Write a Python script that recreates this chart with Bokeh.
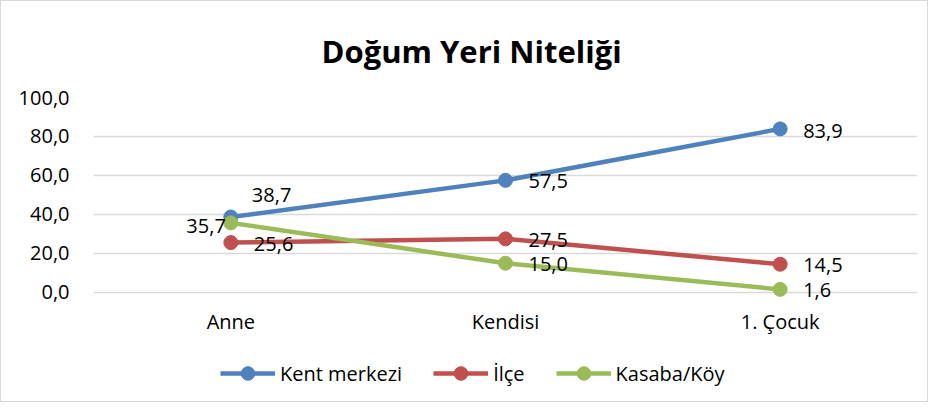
from bokeh.plotting import figure
from bokeh.models import ColumnDataSource, Legend, LegendItem, FixedTicker
from bokeh.embed import file_html
from bokeh.resources import INLINE
from bokeh.core.properties import value

categories = ["Anne", "Kendisi", "1. Çocuk"]
kent_merkezi = [38.7, 57.5, 83.9]
ilce = [25.6, 27.5, 14.5]
kasaba_koy = [35.7, 15.0, 1.6]
series_names = ["Kent merkezi", "İlçe", "Kasaba/Köy"]
y_ticks = [0, 20, 40, 60, 80, 100]
y_tick_labels = ["0,0", "20,0", "40,0", "60,0", "80,0", "100,0"]

colors = ["#4F81BD", "#C0504D", "#9BBB59"]
FONT = "Open Sans"

# frame extends below 0 (1.95 px per unit) so that the legend area is inside the frame
p = figure(width=928, height=402, x_range=categories, y_range=(-51.8, 100),
           output_backend="svg", toolbar_location=None,
           min_border_left=92, min_border_right=12, min_border_top=96, min_border_bottom=10)
p.x_range.range_padding = 0
p.background_fill_color = "white"
p.border_fill_color = "white"
p.outline_line_color = None
p.styles = {"border": "1px solid #D9D9D9"}

p.title.text = "Doğum Yeri Niteliği"
p.title.align = "left"
p.title.offset = 228
p.title.text_font = FONT
p.title.text_font_size = "31px"
p.title.text_font_style = "bold"
p.title.text_color = "#000000"
p.title.standoff = 51

p.xgrid.grid_line_color = None
p.ygrid.grid_line_color = "#D9D9D9"
p.ygrid.grid_line_width = 1.5
p.yaxis.ticker = FixedTicker(ticks=y_ticks)
p.yaxis.major_label_overrides = {t: l for t, l in zip(y_ticks, y_tick_labels)}
for ax in (p.xaxis, p.yaxis):
    ax.axis_line_color = None
    ax.major_tick_line_color = None
    ax.minor_tick_line_color = None
    ax.major_tick_out = 0
    ax.major_tick_in = 0
    ax.major_label_text_font = FONT
    ax.major_label_text_font_size = "20px"
    ax.major_label_text_color = "#000000"
p.yaxis.major_label_standoff = 24
p.xaxis.major_label_standoff = -86

all_series = [kent_merkezi, ilce, kasaba_koy]
label_dx = [[21, 23, 23], [23, 23, 23], [-5, 23, 23]]
label_dy = [[-22, 1, 2], [1, 1, 1], [3, 1, 1]]
label_align = [["left", "left", "left"], ["left", "left", "left"], ["right", "left", "left"]]

items = []
for name, vals, c, dx, dy, al in zip(series_names, all_series, colors, label_dx, label_dy, label_align):
    src = ColumnDataSource(dict(x=categories, y=vals,
                                lab=[f"{v:.1f}".replace(".", ",") for v in vals],
                                dx=dx, dy=dy, al=al))
    r1 = p.line("x", "y", source=src, line_color=c, line_width=4.5)
    r2 = p.scatter("x", "y", source=src, size=14, fill_color=c, line_color=c)
    p.text("x", "y", text="lab", source=src, x_offset="dx", y_offset="dy",
           text_align="al", text_baseline="middle", text_font=value(FONT),
           text_font_size="20px", text_color="#000000")
    items.append(LegendItem(label=name, renderers=[r1, r2]))

legend = Legend(items=items, orientation="horizontal", location=(127, 3),
                border_line_color=None, background_fill_alpha=0,
                label_text_font=FONT, label_text_font_size="20px", label_text_color="#000000",
                glyph_width=55, glyph_height=34, spacing=31, margin=0, padding=0,
                label_standoff=5)
p.add_layout(legend, "center")

open("out.html", "w").write(file_html(p, INLINE))
